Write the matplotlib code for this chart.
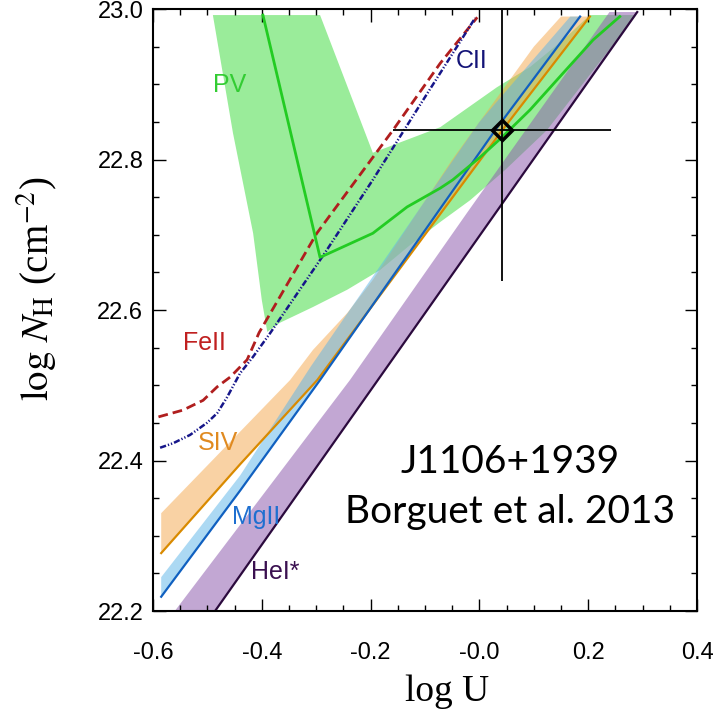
import matplotlib
matplotlib.use("Agg")
import matplotlib.pyplot as plt
import numpy as np

plt.rcParams['mathtext.fontset'] = 'stix'

# ejes
x_ticks = [-0.6, -0.4, -0.2, 0.0, 0.2, 0.4]
x_tick_labels = ['-0.6', '-0.4', '-0.2', '-0.0', '0.2', '0.4']
y_ticks = [22.2, 22.4, 22.6, 22.8, 23.0]
y_tick_labels = ['22.2', '22.4', '22.6', '22.8', '23.0']

# PV (zona verde y curva)
pv_fill_x = [-0.490, -0.293, -0.196, -0.072, 0.032, 0.093, 0.154, 0.203, 0.288,
             0.124, 0.047, -0.017, -0.072, -0.128, -0.183, -0.243, -0.306,
             -0.367, -0.390, -0.400, -0.416, -0.453]
pv_fill_y = [22.992, 22.992, 22.809, 22.843, 22.896, 22.923, 22.959, 22.992, 22.992,
             22.839, 22.786, 22.746, 22.717, 22.686, 22.653, 22.627, 22.604,
             22.583, 22.571, 22.613, 22.702, 22.835]
pv_x = [-0.398, -0.293, -0.196, -0.133, -0.072, -0.049, 0.001, 0.042, 0.093, 0.154, 0.209, 0.258]
pv_y = [22.992, 22.670, 22.702, 22.737, 22.762, 22.773, 22.803, 22.830, 22.866, 22.915, 22.959, 22.990]

# FeII y CII
fe_x = [-0.590, -0.545, -0.508, -0.482, -0.458, -0.427, -0.405, -0.299, -0.159, -0.072, -0.004]
fe_y = [22.458, 22.467, 22.480, 22.498, 22.511, 22.534, 22.570, 22.702, 22.839, 22.928, 22.989]
c_x = [-0.587, -0.563, -0.532, -0.501, -0.482, -0.464, -0.440, -0.416, -0.385, -0.284, -0.196, -0.115, -0.008]
c_y = [22.417, 22.423, 22.434, 22.450, 22.463, 22.484, 22.516, 22.538, 22.569, 22.676, 22.773, 22.866, 22.988]

# SIV
s_x = [-0.585, -0.44, -0.298, 0.042, 0.203]
s_y = [22.277, 22.395, 22.507, 22.839, 22.990]
s_up_x = [-0.585, -0.348, -0.306, -0.243, -0.196, -0.05, 0.10, 0.15]
s_up_y = [22.330, 22.507, 22.547, 22.596, 22.640, 22.80, 22.95, 22.99]

# MgII
mg_x = [-0.585, -0.44, -0.293, 0.029, 0.185]
mg_y = [22.219, 22.36, 22.507, 22.839, 22.990]
mg_up_x = [-0.585, -0.44, -0.31, 0.0, 0.167]
mg_up_y = [22.245, 22.38, 22.525, 22.85, 22.990]

# HeI*
he_x = [-0.486, 0.290]
he_y = [22.200, 22.996]
he_up_x = [-0.560, -0.238, -0.023, 0.239]
he_up_y = [22.200, 22.507, 22.729, 22.996]

# punto de la solucion
sol_x, sol_y = 0.042, 22.839
sol_xerr = [[0.20], [0.20]]
sol_yerr = [[0.20], [0.20]]

fig = plt.figure(figsize=(7.27, 7.17), dpi=100)
ax = fig.add_axes([0.2105, 0.1478, 0.7483, 0.8396])

# bandas
ax.fill(pv_fill_x, pv_fill_y, color='#3ddc3d', alpha=0.52, lw=0)
ax.fill(s_up_x + s_x[::-1], s_up_y + s_y[::-1], color='#f5a64a', alpha=0.5, lw=0)
ax.fill(mg_up_x + mg_x[::-1], mg_up_y + mg_y[::-1], color='#5ab4e8', alpha=0.5, lw=0)
ax.fill(he_up_x + he_x[::-1], he_up_y + he_y[::-1], color='#9060b0', alpha=0.55, lw=0)

# curvas
ax.plot(fe_x, fe_y, color='#b01e1e', lw=2.0, dashes=[3.5, 1.8])
ax.plot(c_x, c_y, color='#16168a', lw=1.8, dashes=[2.5, 0.8, 0.5, 0.8, 0.5, 0.8])
ax.plot(s_x, s_y, color='#d98a00', lw=1.6)
ax.plot(mg_x, mg_y, color='#1060c0', lw=1.6)
ax.plot(he_x, he_y, color='#2b0a3d', lw=1.6)
ax.plot(pv_x, pv_y, color='#22cc22', lw=2.0)

ax.errorbar(sol_x, sol_y, xerr=sol_xerr, yerr=sol_yerr, fmt='D', ms=10,
            mfc='none', mec='black', mew=2.5, ecolor='black', elinewidth=1.3, capsize=0)

# etiquetas de iones
lab = dict(fontsize=18, family='Liberation Sans', ha='center', va='center')
ax.text(-0.460, 22.899, 'PV', color='#33cc33', **lab)
ax.text(-0.014, 22.931, 'CII', color='#141478', **lab)
ax.text(-0.506, 22.556, 'FeII', color='#c02020', **lab)
ax.text(-0.481, 22.423, 'SIV', color='#e08a20', **lab)
ax.text(-0.411, 22.325, 'MgII', color='#1e6fd0', **lab)
ax.text(-0.376, 22.252, 'HeI*', color='#3a1050', **lab)

ax.text(0.056, 22.383, 'J1106+1939', fontsize=28, family='Lato', ha='center', va='baseline')
ax.text(0.056, 22.317, 'Borguet et al. 2013', fontsize=28, family='Lato', ha='center', va='baseline')

ax.set_xlim(-0.6, 0.4)
ax.set_ylim(22.2, 23.0)
ax.set_xticks(x_ticks)
ax.set_xticklabels(x_tick_labels)
ax.set_yticks(y_ticks)
ax.set_yticklabels(y_tick_labels)
ax.set_xticks(np.arange(-0.6, 0.401, 0.05), minor=True)
ax.set_yticks(np.arange(22.2, 23.001, 0.05), minor=True)
ax.tick_params(which='both', direction='in', top=True, right=True, width=1)
ax.tick_params(which='major', length=9)
ax.tick_params(which='minor', length=4)
ax.tick_params(axis='x', pad=22)
ax.tick_params(axis='y', pad=7)
for t in ax.get_xticklabels() + ax.get_yticklabels():
    t.set_family('Liberation Sans')
    t.set_fontsize(17)
for s in ax.spines.values():
    s.set_linewidth(1.5)

ax.set_xlabel('log U', fontsize=27, family='Liberation Serif')
ax.xaxis.set_label_coords(0.54, -0.105)
ax.set_ylabel(r'$\log\,N_{\rm H}$ (cm$^{-2}$)', fontsize=28, family='Liberation Serif')
ax.yaxis.set_label_coords(-0.172, 0.535)

fig.savefig('out.png', dpi=100)
